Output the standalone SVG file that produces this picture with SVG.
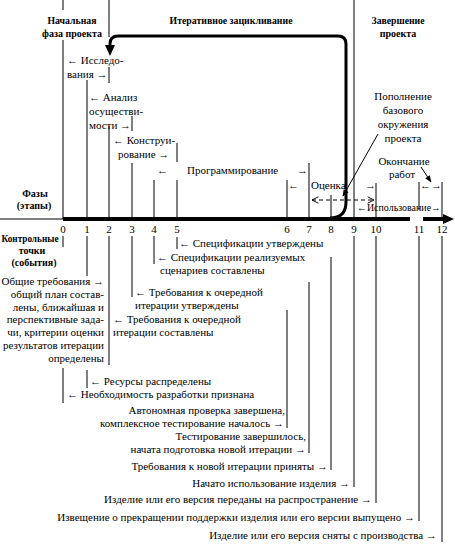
<svg xmlns="http://www.w3.org/2000/svg" width="455" height="546" viewBox="0 0 455 546">
<style>
text{font-family:"Liberation Serif","Times New Roman","DejaVu Serif",serif;font-size:11px;fill:#000}
.b{font-weight:bold;font-size:11px}
.bs{font-weight:bold;font-size:10px}
.m{text-anchor:middle}
.e{text-anchor:end}
.ln{stroke:#000;stroke-width:1;fill:none}
.thick{stroke:#000;stroke-width:4;fill:none}
.loop{stroke:#000;stroke-width:3;fill:none;stroke-linejoin:round}
</style>
<defs>
<marker id="ah" viewBox="0 0 10 10" refX="9" refY="5" markerWidth="7" markerHeight="7" orient="auto" markerUnits="userSpaceOnUse">
<path d="M0,1 L10,5 L0,9 z" fill="#000"/>
</marker>
<marker id="oa" viewBox="0 0 10 10" refX="9" refY="5" markerWidth="8" markerHeight="8" orient="auto-start-reverse" markerUnits="userSpaceOnUse">
<path d="M1,1 L9,5 L1,9" fill="none" stroke="#000" stroke-width="1.2"/>
</marker>
</defs>
<rect width="455" height="546" fill="#fff"/>

<g id="connectors">
<line class="ln" x1="0" y1="219" x2="63" y2="219"/>
<line class="thick" x1="63" y1="219" x2="410" y2="219"/>
<line class="thick" x1="423" y1="219" x2="445" y2="219"/>
<polygon points="443,214 454,219 443,224" fill="#000"/>
<path class="loop" d="M330,218 Q346,218 346,202 L346,44 Q346,36 338,36 L118,36 Q110,36 110,44 L110,47"/>
<polygon points="105,45 115,45 110,56" fill="#000"/>
<line class="ln" x1="63" y1="0" x2="63" y2="10"/>
<line class="ln" x1="63" y1="40" x2="63" y2="219"/>
<line class="ln" x1="109" y1="0" x2="109" y2="37"/>
<line class="ln" x1="109" y1="67" x2="109" y2="83"/>
<line class="ln" x1="109" y1="126" x2="109" y2="219"/>
<line class="ln" x1="87" y1="80" x2="87" y2="219"/>
<line class="ln" x1="132" y1="116" x2="132" y2="131"/>
<line class="ln" x1="132" y1="163" x2="132" y2="219"/>
<line class="ln" x1="154" y1="180" x2="154" y2="219"/>
<line class="ln" x1="177" y1="143" x2="177" y2="162"/>
<line class="ln" x1="177" y1="180" x2="177" y2="219"/>
<line class="ln" x1="287" y1="180" x2="287" y2="219"/>
<line class="ln" x1="309" y1="163" x2="309" y2="219"/>
<line class="ln" x1="331" y1="195" x2="331" y2="219"/>
<line class="ln" x1="354" y1="0" x2="354" y2="219"/>
<line class="ln" x1="376" y1="183" x2="376" y2="219"/>
<line class="ln" x1="419" y1="182" x2="419" y2="210"/>
<line class="ln" x1="442" y1="182" x2="442" y2="219"/>
<line class="ln" x1="63" y1="236" x2="63" y2="247"/>
<line class="ln" x1="63" y1="368" x2="63" y2="403"/>
<line class="ln" x1="87" y1="236" x2="87" y2="276"/>
<line class="ln" x1="87" y1="370" x2="87" y2="388"/>
<line class="ln" x1="109" y1="236" x2="109" y2="365"/>
<line class="ln" x1="132" y1="236" x2="132" y2="297"/>
<line class="ln" x1="154" y1="236" x2="154" y2="264"/>
<line class="ln" x1="177" y1="237" x2="177" y2="249"/>
<line class="ln" x1="287" y1="310" x2="287" y2="428"/>
<line class="ln" x1="309" y1="282" x2="309" y2="453"/>
<line class="ln" x1="331" y1="257" x2="331" y2="470"/>
<line class="ln" x1="354" y1="236" x2="354" y2="487"/>
<line class="ln" x1="376" y1="236" x2="376" y2="503"/>
<line class="ln" x1="419" y1="236" x2="419" y2="521"/>
<line class="ln" x1="442" y1="236" x2="442" y2="542"/>
<line class="ln" x1="378" y1="134" x2="343" y2="196" marker-end="url(#ah)"/>
<line class="ln" x1="421" y1="167" x2="431" y2="182" marker-end="url(#ah)"/>
<line class="ln" x1="312" y1="200" x2="374" y2="200" stroke-dasharray="4,3" marker-start="url(#oa)" marker-end="url(#oa)"/>
</g>

<g id="headers">
<text class="b m" x="72" y="24" textLength="49" lengthAdjust="spacingAndGlyphs">Начальная</text>
<text class="b m" x="72" y="37" textLength="60" lengthAdjust="spacingAndGlyphs">фаза проекта</text>
<text class="b m" x="231" y="24" textLength="123" lengthAdjust="spacingAndGlyphs">Итеративное зацикливание</text>
<text class="b m" x="398" y="24" textLength="53" lengthAdjust="spacingAndGlyphs">Завершение</text>
<text class="bs m" x="398" y="37">проекта</text>
<text class="bs m" x="35" y="197">Фазы</text>
<text class="bs m" x="34" y="209">(этапы)</text>
<text class="b m" x="30" y="242" textLength="57" lengthAdjust="spacingAndGlyphs">Контрольные</text>
<text class="bs m" x="32" y="254">точки</text>
<text class="bs m" x="34" y="266">(события)</text>
</g>

<g id="ticks">
<text class="m" x="63" y="233">0</text>
<text class="m" x="87" y="233">1</text>
<text class="m" x="109" y="233">2</text>
<text class="m" x="132" y="233">3</text>
<text class="m" x="154" y="233">4</text>
<text class="m" x="177" y="233">5</text>
<text class="m" x="287" y="233">6</text>
<text class="m" x="309" y="233">7</text>
<text class="m" x="331" y="233">8</text>
<text class="m" x="354" y="233">9</text>
<text class="m" x="376" y="233">10</text>
<text class="m" x="419" y="233">11</text>
<text class="m" x="442" y="233">12</text>
</g>

<g id="phase-research">
<text x="67" y="64">← Исследо-</text>
<text x="67" y="78">вания →</text>
</g>
<g id="phase-analysis">
<text x="89" y="101">← Анализ</text>
<text x="89" y="115">осуществи-</text>
<text x="89" y="129">мости →</text>
</g>
<g id="phase-design">
<text x="113" y="144">← Конструи-</text>
<text x="118" y="158">рование →</text>
</g>
<g id="phase-programming">
<text x="157" y="174">←</text>
<text x="187" y="174">Программирование</text>
<text x="297" y="174">→</text>
</g>
<g id="phase-evaluation">
<text x="288" y="189">←</text>
<text x="311" y="189">Оценка</text>
<text x="365" y="189">→</text>
</g>
<g id="phase-usage">
<text x="357" y="211" textLength="84" lengthAdjust="spacingAndGlyphs">←Использование→</text>
</g>
<g id="note-base">
<text class="m" x="403" y="100">Пополнение</text>
<text class="m" x="403" y="114">базового</text>
<text class="m" x="403" y="128">окружения</text>
<text class="m" x="403" y="142">проекта</text>
</g>
<g id="phase-end">
<text class="m" x="404" y="165">Окончание</text>
<text class="m" x="402" y="178">работ</text>
<text x="420" y="189">←→</text>
</g>

<g id="ev5"><text x="179" y="247">← Спецификации утверждены</text></g>
<g id="ev4">
<text x="157" y="261">← Спецификации реализуемых</text>
<text x="160" y="274">сценариев составлены</text>
</g>
<g id="ev3">
<text x="135" y="296">← Требования к очередной</text>
<text x="135" y="309">итерации утверждены</text>
</g>
<g id="ev2a">
<text class="e" x="104" y="285">Общие требования →</text>
<text class="e" x="104" y="298">общий план состав-</text>
<text class="e" x="104" y="311">лены, ближайшая и</text>
<text class="e" x="104" y="323">перспективные зада-</text>
<text class="e" x="104" y="336">чи, критерии оценки</text>
<text class="e" x="104" y="349">результатов итерации</text>
<text class="e" x="104" y="362">определены</text>
</g>
<g id="ev2b">
<text x="113" y="323">← Требования к очередной</text>
<text x="113" y="336">итерации составлены</text>
</g>
<g id="ev1"><text x="90" y="385">← Ресурсы распределены</text></g>
<g id="ev0"><text x="67" y="398">← Необходимость разработки признана</text></g>
<g id="ev6">
<text class="e" x="285" y="414">Автономная проверка завершена,</text>
<text class="e" x="284" y="427">комплексное тестирование началось →</text>
</g>
<g id="ev7">
<text class="e" x="306" y="440">Тестирование завершилось,</text>
<text class="e" x="306" y="453">начата подготовка новой итерации →</text>
</g>
<g id="ev8"><text class="e" x="328" y="470">Требования к новой итерации приняты →</text></g>
<g id="ev9"><text class="e" x="350" y="487">Начато использование изделия →</text></g>
<g id="ev10"><text class="e" x="372" y="503">Изделие или его версия переданы на распространение →</text></g>
<g id="ev11"><text class="e" x="415" y="521">Извещение о прекращении поддержки изделия или его версии выпущено →</text></g>
<g id="ev12"><text class="e" x="437" y="539">Изделие или его версия сняты с производства →</text></g>
</svg>
